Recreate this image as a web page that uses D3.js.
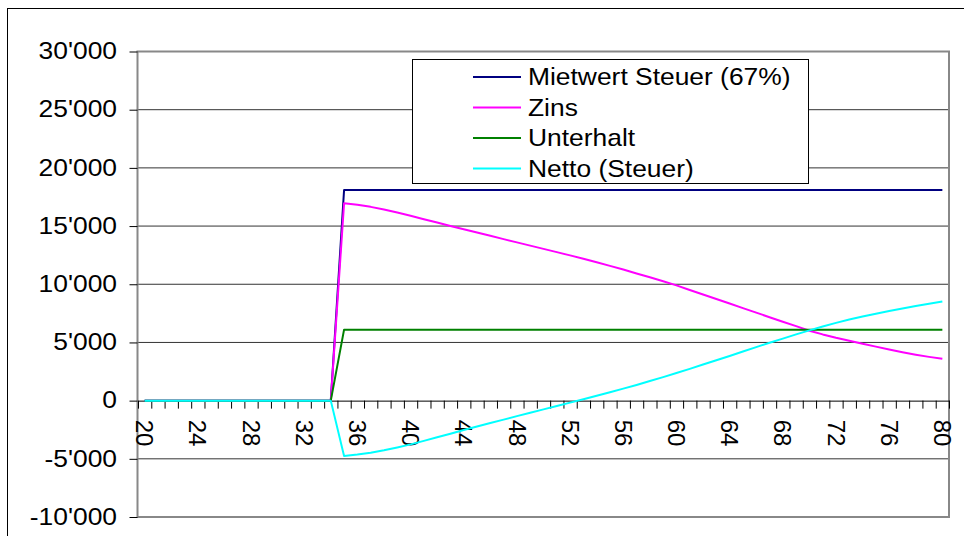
<!DOCTYPE html>
<html>
<head>
<meta charset="utf-8">
<script src="https://cdn.jsdelivr.net/npm/d3@7"></script>
<style>
  html, body { margin: 0; padding: 0; background: #fff; }
  svg { display: block; }
  text { font-family: "Liberation Sans", Arial, sans-serif; fill: #000; }
</style>
</head>
<body>
<svg id="chart" width="964" height="536"></svg>
<script>
// ---- data ----
const ages = [20,21,22,23,24,25,26,27,28,29,30,31,32,33,34,35,36,37,38,39,40,41,42,43,44,45,46,47,48,49,50,
  51,52,53,54,55,56,57,58,59,60,61,62,63,64,65,66,67,68,69,70,71,72,73,74,75,76,77,78,79,80];
const xTickLabels = ["20","24","28","32","36","40","44","48","52","56","60","64","68","72","76","80"];
const yTickValues = [-10000,-5000,0,5000,10000,15000,20000,25000,30000];
const seriesNames = ["Mietwert Steuer (67%)","Zins","Unterhalt","Netto (Steuer)"];
const seriesColors = ["#000080","#FF00FF","#008000","#00FFFF"];

const mietwert = [0,0,0,0,0,0,0,0,0,0,0,0,0,0,0,
  18100,18100,18100,18100,18100,18100,18100,18100,18100,18100,18100,18100,18100,18100,18100,18100,
  18100,18100,18100,18100,18100,18100,18100,18100,18100,18100,18100,18100,18100,18100,18100,18100,
  18100,18100,18100,18100,18100,18100,18100,18100,18100,18100,18100,18100,18100,18100];
const zins = [0,0,0,0,0,0,0,0,0,0,0,0,0,0,0,
  16950,16830,16650,16420,16160,15880,15590,15300,15000,14720,14440,14160,13880,13600,13320,13040,
  12760,12480,12190,11890,11580,11260,10930,10600,10260,9900,9510,9120,8730,8340,7950,7560,
  7170,6780,6400,6010,5690,5400,5140,4890,4640,4390,4160,3950,3760,3590];
const unterhalt = [0,0,0,0,0,0,0,0,0,0,0,0,0,0,0,
  6100,6100,6100,6100,6100,6100,6100,6100,6100,6100,6100,6100,6100,6100,6100,6100,
  6100,6100,6100,6100,6100,6100,6100,6100,6100,6100,6100,6100,6100,6100,6100,6100,
  6100,6100,6100,6100,6100,6100,6100,6100,6100,6100,6100,6100,6100,6100];
const netto = [0,0,0,0,0,0,0,0,0,0,0,0,0,0,0,
  -4750,-4630,-4470,-4260,-4020,-3760,-3460,-3150,-2840,-2530,-2230,-1930,-1630,-1330,-1040,-750,
  -460,-170,120,420,720,1030,1350,1680,2020,2370,2730,3100,3470,3840,4220,4600,
  4970,5330,5690,6040,6370,6680,6970,7230,7470,7700,7920,8130,8330,8520];
const seriesValues = [mietwert, zins, unterhalt, netto];

// ---- layout ----
const svg = d3.select("#chart");
const L = 138, R = 949, T = 51.5, B = 517;
const FONT = 24;
const STRETCH = 1.1;

const x = d3.scaleLinear().domain([19.5, 80.5]).range([L, R]);
const y = d3.scaleLinear().domain([-10000, 30000]).range([B, T]);

// outer border
svg.append("rect").attr("x", 7.5).attr("y", 8.5).attr("width", 1000).attr("height", 600)
  .attr("fill", "#fff").attr("stroke", "#000").attr("stroke-width", 1);

// gridlines
svg.append("g").selectAll("line")
  .data(yTickValues.filter(v => v !== -10000 && v !== 30000 && v !== 0))
  .join("line")
  .attr("x1", L).attr("x2", R)
  .attr("y1", d => y(d)).attr("y2", d => y(d))
  .attr("stroke", "#333").attr("stroke-width", 1);

// plot frame
svg.append("rect").attr("x", L - 0.5).attr("y", T).attr("width", R - L + 0.5).attr("height", B - T)
  .attr("fill", "none").attr("stroke", "#888").attr("stroke-width", 2);

// y axis
const fmt = v => d3.format(",")(v).replace(/,/g, "'").replace("−", "-");
const yAxis = svg.append("g").attr("transform", `translate(${L - 0.5},0)`)
  .call(d3.axisLeft(y).tickValues(yTickValues).tickSize(8).tickPadding(12).tickFormat(fmt));
yAxis.select(".domain").remove();
yAxis.selectAll(".tick line").attr("stroke", "#000");
yAxis.selectAll("text")
  .attr("font-size", FONT)
  .attr("font-family", "Liberation Sans, Arial, sans-serif")
  .attr("x", -20.5 / STRETCH)
  .attr("dy", "0.3em")
  .attr("transform", `scale(${STRETCH},1)`);

// x axis (zero line, boundary ticks)
const xAxis = svg.append("g").attr("transform", `translate(0,${y(0)})`)
  .call(d3.axisBottom(x).tickValues(d3.range(19.5, 81, 1)).tickSize(8).tickSizeOuter(0).tickFormat(""));
xAxis.select(".domain").attr("stroke", "#000");
xAxis.selectAll(".tick line").attr("stroke", "#000");

// x labels rotated
svg.append("g").selectAll("text").data(xTickLabels).join("text")
  .attr("transform", d => `translate(${x(+d)},${y(0) + 19}) rotate(90)`)
  .attr("dy", "0.35em")
  .attr("font-size", FONT)
  .text(d => d);

// lines
const line = d3.line().x((d, i) => x(ages[i])).y(d => y(d));
seriesValues.forEach((vals, k) => {
  svg.append("path").datum(vals)
    .attr("d", line)
    .attr("fill", "none")
    .attr("stroke", seriesColors[k])
    .attr("stroke-width", 2)
    .attr("stroke-linejoin", "round");
});

// legend
const lg = svg.append("g");
lg.append("rect").attr("x", 412.5).attr("y", 59.5).attr("width", 396).attr("height", 124)
  .attr("fill", "#fff").attr("stroke", "#000").attr("stroke-width", 1);
seriesNames.forEach((name, k) => {
  const ry = 77 + k * 30.5;
  lg.append("line").attr("x1", 473).attr("x2", 521).attr("y1", ry).attr("y2", ry)
    .attr("stroke", seriesColors[k]).attr("stroke-width", 2);
  lg.append("text")
    .attr("transform", `translate(528,${ry}) scale(${STRETCH},1)`)
    .attr("dy", "0.35em")
    .attr("font-size", FONT).text(name);
});
</script>
</body>
</html>
